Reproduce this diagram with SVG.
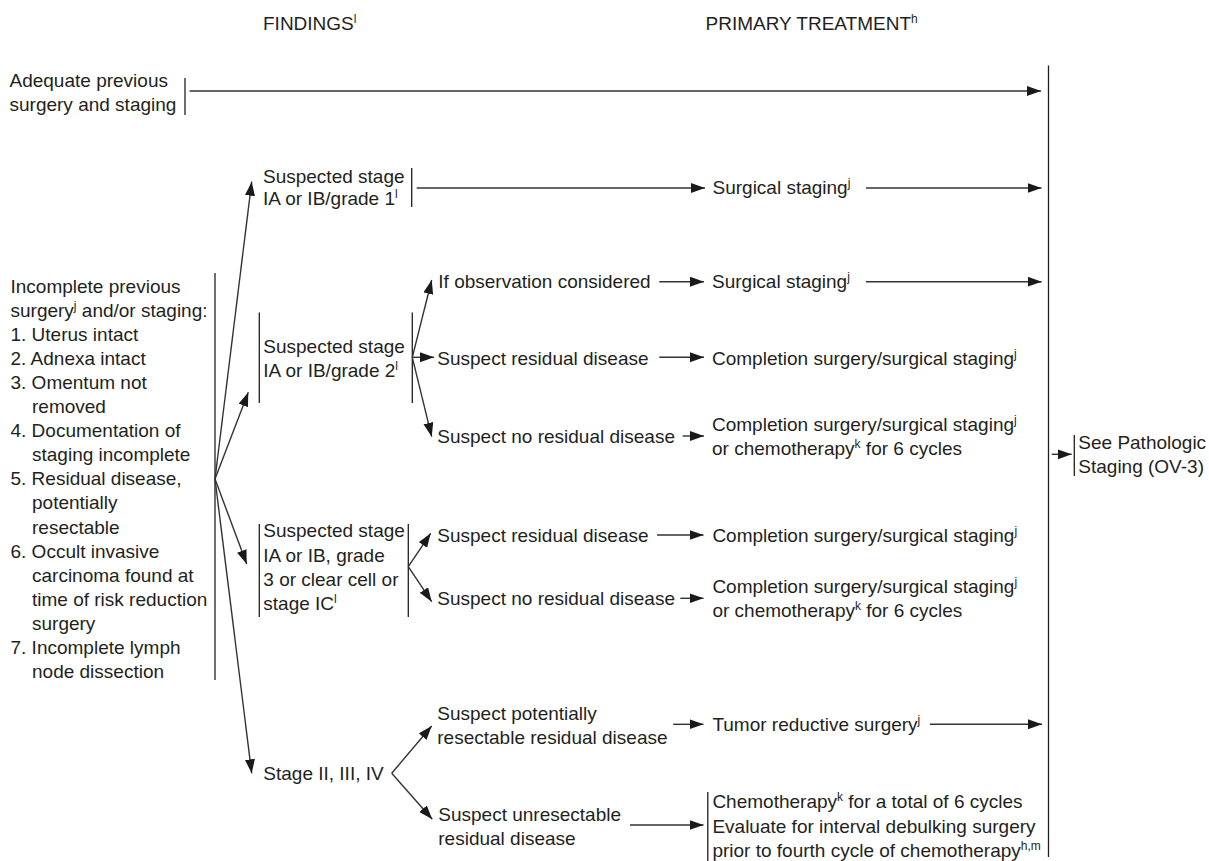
<svg xmlns="http://www.w3.org/2000/svg" width="1209" height="861" viewBox="0 0 1209 861">
<style>
text{font-family:"Liberation Sans",Arial,Helvetica,sans-serif;font-size:19px;fill:#231f20}
.sup{font-size:12px}
.bar{stroke:#231f20;stroke-width:1.3;fill:none}
.ln{stroke:#333;stroke-width:1.4;fill:none}
.ar{stroke:#333;stroke-width:1.4;fill:none;marker-end:url(#ah)}
</style>
<defs>
<marker id="ah" markerUnits="userSpaceOnUse" markerWidth="15" markerHeight="11" refX="14" refY="5" orient="auto">
<path d="M0,0 L14,5 L0,10 z" fill="#1a1a1a"/>
</marker>
</defs>
<rect width="1209" height="861" fill="#fff"/>
<g id="headers">
<text x="263" y="30">FINDINGS<tspan class="sup" dy="-7">l</tspan></text>
<text x="705.5" y="30">PRIMARY TREATMENT<tspan class="sup" dy="-7">h</tspan></text>
</g>
<g id="node-adequate">
<text x="9.5" y="87">Adequate previous</text>
<text x="9.5" y="111">surgery and staging</text>
<line class="bar" x1="185" y1="78" x2="185" y2="115"/>
</g>
<g id="node-incomplete">
<text x="10.5" y="293">Incomplete previous</text>
<text x="10.5" y="317">surgery<tspan class="sup" dy="-7">j</tspan><tspan dy="7"> and/or staging:</tspan></text>
<text x="10.5" y="341">1. Uterus intact</text>
<text x="10.5" y="365">2. Adnexa intact</text>
<text x="10.5" y="389">3. Omentum not</text>
<text x="32" y="413">removed</text>
<text x="10.5" y="437">4. Documentation of</text>
<text x="32" y="461">staging incomplete</text>
<text x="10.5" y="485">5. Residual disease,</text>
<text x="32" y="509">potentially</text>
<text x="32" y="534">resectable</text>
<text x="10.5" y="558">6. Occult invasive</text>
<text x="32" y="582">carcinoma found at</text>
<text x="32" y="606">time of risk reduction</text>
<text x="32" y="630">surgery</text>
<text x="10.5" y="654">7. Incomplete lymph</text>
<text x="32" y="678">node dissection</text>
<line class="bar" x1="215" y1="273" x2="215" y2="680"/>
</g>
<g id="node-grade1">
<text x="263" y="183">Suspected stage</text>
<text x="263" y="205">IA or IB/grade 1<tspan class="sup" dy="-7">l</tspan></text>
<line class="bar" x1="411.7" y1="168" x2="411.7" y2="207"/>
</g>
<g id="node-grade2">
<line class="bar" x1="259.3" y1="312.5" x2="259.3" y2="403"/>
<text x="263.3" y="353.3">Suspected stage</text>
<text x="263.3" y="376.7">IA or IB/grade 2<tspan class="sup" dy="-7">l</tspan></text>
<line class="bar" x1="412.3" y1="312.5" x2="412.3" y2="403"/>
</g>
<g id="node-grade3">
<line class="bar" x1="259.3" y1="524" x2="259.3" y2="617"/>
<text x="263.3" y="537.3">Suspected stage</text>
<text x="263.3" y="561.7">IA or IB, grade</text>
<text x="263.3" y="586">3 or clear cell or</text>
<text x="263.3" y="610">stage IC<tspan class="sup" dy="-7">l</tspan></text>
<line class="bar" x1="408.3" y1="524" x2="408.3" y2="617"/>
</g>
<g id="node-stage234">
<text x="263.3" y="780">Stage II, III, IV</text>
</g>
<g id="node-if-observation">
<text x="438.3" y="288.3">If observation considered</text>
</g>
<g id="node-g2-residual">
<text x="437.3" y="365">Suspect residual disease</text>
</g>
<g id="node-g2-no-residual">
<text x="437.3" y="442.7">Suspect no residual disease</text>
</g>
<g id="node-g3-residual">
<text x="437.3" y="541.7">Suspect residual disease</text>
</g>
<g id="node-g3-no-residual">
<text x="437.3" y="605">Suspect no residual disease</text>
</g>
<g id="node-resectable">
<text x="437.3" y="720">Suspect potentially</text>
<text x="437.3" y="744">resectable residual disease</text>
</g>
<g id="node-unresectable">
<text x="438.3" y="820.7">Suspect unresectable</text>
<text x="438.3" y="845">residual disease</text>
</g>
<g id="node-surgical-staging-1">
<text x="712.5" y="194.3">Surgical staging<tspan class="sup" dy="-7">j</tspan></text>
</g>
<g id="node-surgical-staging-2">
<text x="712" y="288.3">Surgical staging<tspan class="sup" dy="-7">j</tspan></text>
</g>
<g id="node-completion-1">
<text x="712" y="365">Completion surgery/surgical staging<tspan class="sup" dy="-7">j</tspan></text>
</g>
<g id="node-completion-or-chemo-1">
<text x="712" y="431">Completion surgery/surgical staging<tspan class="sup" dy="-7">j</tspan></text>
<text x="712" y="455">or chemotherapy<tspan class="sup" dy="-7">k</tspan><tspan dy="7"> for 6 cycles</tspan></text>
</g>
<g id="node-completion-2">
<text x="712.4" y="542.3">Completion surgery/surgical staging<tspan class="sup" dy="-7">j</tspan></text>
</g>
<g id="node-completion-or-chemo-2">
<text x="712.4" y="593.3">Completion surgery/surgical staging<tspan class="sup" dy="-7">j</tspan></text>
<text x="712.4" y="616.7">or chemotherapy<tspan class="sup" dy="-7">k</tspan><tspan dy="7"> for 6 cycles</tspan></text>
</g>
<g id="node-tumor-reductive">
<text x="712.4" y="731">Tumor reductive surgery<tspan class="sup" dy="-7">j</tspan></text>
</g>
<g id="node-chemotherapy">
<line class="bar" x1="707.8" y1="792" x2="707.8" y2="861"/>
<text x="712.4" y="808.3">Chemotherapy<tspan class="sup" dy="-7">k</tspan><tspan dy="7"> for a total of 6 cycles</tspan></text>
<text x="712.4" y="832.7">Evaluate for interval debulking surgery</text>
<text x="712.4" y="856.7">prior to fourth cycle of chemotherapy<tspan class="sup" dy="-7">h,m</tspan></text>
</g>
<g id="node-pathologic-staging">
<line class="bar" x1="1074.3" y1="435" x2="1074.3" y2="476"/>
<text x="1078.3" y="449.3">See Pathologic</text>
<text x="1078.3" y="472.7">Staging (OV-3)</text>
</g>
<g id="connectors">
<line class="bar" x1="1048.5" y1="65.5" x2="1048.5" y2="857"/>
<line class="ar" x1="189.5" y1="91" x2="1041" y2="91"/>
<line class="ar" x1="416.7" y1="188" x2="705" y2="188"/>
<line class="ar" x1="866" y1="188" x2="1041.5" y2="188"/>
<line class="ar" x1="215" y1="479" x2="251.7" y2="181.7"/>
<line class="ar" x1="215" y1="479" x2="248.3" y2="392.3"/>
<line class="ar" x1="215" y1="479" x2="246.7" y2="564"/>
<line class="ar" x1="215" y1="479" x2="251.7" y2="773.3"/>
<line class="ar" x1="412.3" y1="357.3" x2="431.7" y2="280"/>
<line class="ar" x1="412.3" y1="357.3" x2="434" y2="357.3"/>
<line class="ar" x1="412.3" y1="357.3" x2="431.7" y2="436.7"/>
<line class="ar" x1="659.3" y1="281.7" x2="704" y2="281.7"/>
<line class="ar" x1="866" y1="281.7" x2="1041.7" y2="281.7"/>
<line class="ar" x1="659.3" y1="357.3" x2="704" y2="357.3"/>
<line class="ar" x1="682.7" y1="436" x2="704" y2="436"/>
<line class="ar" x1="408.3" y1="566.7" x2="430.7" y2="533.3"/>
<line class="ar" x1="408.3" y1="566.7" x2="431.7" y2="601.7"/>
<line class="ar" x1="657" y1="535" x2="703.5" y2="535"/>
<line class="ar" x1="680.3" y1="598.3" x2="703.5" y2="598.3"/>
<line class="ar" x1="391.7" y1="773.3" x2="431.7" y2="726"/>
<line class="ar" x1="391.7" y1="773.3" x2="432.3" y2="819.3"/>
<line class="ar" x1="673.2" y1="724.3" x2="703.5" y2="724.3"/>
<line class="ar" x1="930" y1="724.3" x2="1042" y2="724.3"/>
<line class="ar" x1="630" y1="825" x2="703.5" y2="825"/>
<line class="ar" x1="1051.7" y1="454.3" x2="1071.7" y2="454.3"/>
</g>
</svg>
